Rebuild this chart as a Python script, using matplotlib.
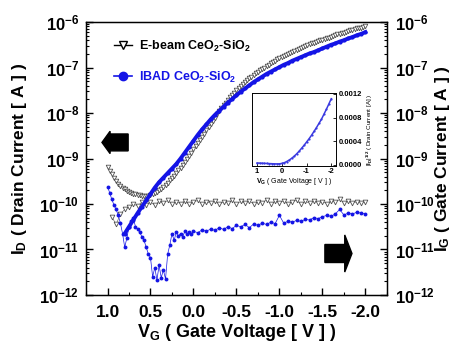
import numpy as np
import matplotlib
matplotlib.use('Agg')
import matplotlib.pyplot as plt
from matplotlib.patches import Polygon
from matplotlib.lines import Line2D
from matplotlib.ticker import FuncFormatter, MultipleLocator, NullFormatter, FixedLocator

plt.rcParams['font.family'] = ['Liberation Sans', 'DejaVu Sans']
plt.rcParams['font.weight'] = 'bold'
plt.rcParams['mathtext.fontset'] = 'custom'
plt.rcParams['mathtext.rm'] = 'Liberation Sans:bold'
plt.rcParams['mathtext.it'] = 'Liberation Sans:bold'
plt.rcParams['mathtext.bf'] = 'Liberation Sans:bold'
plt.rcParams['mathtext.sf'] = 'Liberation Sans:bold'
plt.rcParams['mathtext.default'] = 'rm'
plt.rcParams['axes.unicode_minus'] = False

# ---------------- data ----------------
# E-beam drain current (log10 A), VG = 1.0 ... -2.0 step 0.025
vg_ebeam_drain = np.round(np.linspace(1.0, -2.0, 121), 3)
ebeam_drain_log10 = [
    -9.19, -9.27, -9.35, -9.43, -9.50, -9.55, -9.60, -9.64, -9.68, -9.71,
    -9.74, -9.76, -9.78, -9.79, -9.80, -9.81, -9.82, -9.83, -9.83, -9.82,
    -9.80, -9.78, -9.76, -9.73, -9.70, -9.66, -9.62, -9.58, -9.53, -9.48,
    -9.43, -9.38, -9.32, -9.26, -9.20, -9.14, -9.07, -9.01, -8.94, -8.87,
    -8.80, -8.73, -8.66, -8.59, -8.52, -8.45, -8.38, -8.31, -8.24, -8.17,
    -8.10, -8.03, -7.96, -7.89, -7.83, -7.77, -7.71, -7.65, -7.60, -7.55,
    -7.50, -7.45, -7.41, -7.36, -7.32, -7.28, -7.24, -7.20, -7.17, -7.13,
    -7.10, -7.06, -7.03, -7.00, -6.97, -6.94, -6.91, -6.88, -6.85, -6.82,
    -6.80, -6.77, -6.75, -6.72, -6.70, -6.67, -6.65, -6.63, -6.61, -6.59,
    -6.57, -6.55, -6.53, -6.51, -6.49, -6.47, -6.46, -6.44, -6.42, -6.40,
    -6.39, -6.37, -6.35, -6.34, -6.32, -6.30, -6.29, -6.27, -6.26, -6.24,
    -6.23, -6.21, -6.20, -6.18, -6.17, -6.15, -6.14, -6.13, -6.12, -6.10,
    -6.09]

# IBAD drain current (log10 A), VG = 0.8 ... -2.0 step 0.05
vg_ibad_drain = np.round(np.linspace(0.8, -2.0, 57), 3)
ibad_drain_log10 = [
    -10.65, -10.50, -10.35, -10.20, -10.06, -9.92, -9.78, -9.64, -9.52, -9.42,
    -9.32, -9.22, -9.12, -9.00, -8.87, -8.74, -8.61, -8.48, -8.36, -8.25,
    -8.14, -8.04, -7.95, -7.86, -7.77, -7.69, -7.61, -7.53, -7.46, -7.39,
    -7.32, -7.26, -7.20, -7.14, -7.09, -7.04, -6.99, -6.94, -6.90, -6.85,
    -6.81, -6.77, -6.73, -6.69, -6.66, -6.62, -6.58, -6.54, -6.50, -6.47,
    -6.43, -6.40, -6.36, -6.33, -6.29, -6.26, -6.22]

# E-beam gate current (log10 A), VG = 0.95 ... -2.0 step 0.05
vg_ebeam_gate = np.round(np.linspace(0.95, -2.0, 60), 3)
ebeam_gate_log10 = [
    -10.28, -10.45, -10.22, -10.12, -10.06, -10.00, -10.04, -9.96, -10.02, -9.95,
    -10.03, -9.94, -9.98, -9.92, -10.00, -9.95, -9.99, -9.93, -10.01, -9.96,
    -9.92, -10.00, -9.95, -9.98, -9.93, -10.01, -9.95, -9.97, -9.92, -10.00,
    -9.94, -9.98, -9.93, -10.00, -9.95, -9.97, -9.91, -9.99, -9.94, -9.97,
    -9.93, -9.99, -9.95, -9.92, -10.00, -9.94, -9.98, -9.93, -9.97, -9.95,
    -9.99, -9.93, -9.96, -9.90, -9.97, -9.94, -9.98, -9.95, -9.97, -9.96]

# IBAD gate current (log10 A): VG = 1.0 ... 0.0 step 0.025, then -0.05 ... -2.0 step 0.05
vg_ibad_gate = np.round(np.concatenate([np.linspace(1.0, 0.0, 41),
                                        np.linspace(-0.05, -2.0, 40)]), 3)
ibad_gate_log10 = [
    -9.62, -9.75, -9.90, -10.02, -10.12, -10.25, -10.42, -10.65, -10.95, -10.75,
    -10.50, -10.38, -10.30, -10.50, -10.55, -10.62, -10.72, -10.80, -10.95, -11.10,
    -11.18, -11.60, -11.40, -11.67, -11.35, -11.62, -11.45, -11.65, -11.10, -10.90,
    -10.65, -10.80, -10.62, -10.70, -10.65, -10.72, -10.60, -10.66, -10.62, -10.65,
    -10.60,
    -10.63, -10.57, -10.60, -10.55, -10.58, -10.52, -10.56, -10.50, -10.54, -10.47,
    -10.50, -10.45, -10.52, -10.44, -10.47, -10.42, -10.45, -10.40, -10.43, -10.25,
    -10.42, -10.38, -10.40, -10.36, -10.38, -10.34, -10.35, -10.30, -10.32, -10.28,
    -10.25, -10.27, -10.22, -10.12, -10.24, -10.20, -10.22, -10.18, -10.20, -10.22]

# inset: |ID|^1/2 vs VG
vg_inset = np.round(np.linspace(1.0, -2.0, 31), 3)
sqrt_id_inset = [
    3.0e-5, 2.8e-5, 2.6e-5, 2.4e-5, 2.2e-5, 2.0e-5, 1.8e-5, 1.6e-5, 1.5e-5, 1.6e-5,
    2.2e-5, 3.5e-5, 5.5e-5, 8.0e-5, 1.1e-4, 1.45e-4, 1.85e-4, 2.3e-4, 2.8e-4, 3.3e-4,
    3.85e-4, 4.4e-4, 5.0e-4, 5.65e-4, 6.3e-4, 7.0e-4, 7.7e-4, 8.55e-4, 9.4e-4, 1.03e-3,
    1.12e-3]

x_ticks = [1.0, 0.5, 0.0, -0.5, -1.0, -1.5, -2.0]
y_ticks = [1e-12, 1e-11, 1e-10, 1e-9, 1e-8, 1e-7, 1e-6]
inset_xticks = [1, 0, -1, -2]
inset_yticks = [0.0, 0.0004, 0.0008, 0.0012]

BLUE = '#1414e6'
GRAY = '#505050'

# ---------------- figure ----------------
fig = plt.figure(figsize=(4.6, 3.45), dpi=100)
ax = fig.add_axes([0.187, 0.145, 0.654, 0.791])
ax.set_yscale('log')

ax.plot(vg_ebeam_gate, 10 ** np.array(ebeam_gate_log10), color=GRAY, lw=0.4,
        marker='v', ms=3.4, mfc='white', mec=GRAY, mew=0.6)
ax.plot(vg_ebeam_drain, 10 ** np.array(ebeam_drain_log10), color=GRAY, lw=0.4,
        marker='v', ms=3.3, mfc='white', mec=GRAY, mew=0.6)
ax.plot(vg_ibad_gate, 10 ** np.array(ibad_gate_log10), color=BLUE, lw=0.5,
        marker='o', ms=2.8, mfc=BLUE, mec=BLUE, mew=0)
ax.plot(vg_ibad_drain, 10 ** np.array(ibad_drain_log10), color=BLUE, lw=2.8,
        marker='o', ms=3.0, mfc=BLUE, mec=BLUE, mew=0)

ax.set_xlim(1.25, -2.25)
ax.set_ylim(1e-12, 1e-6)

minor_y = [m * 10.0 ** e for e in range(-12, -6) for m in range(2, 10)]
ax.xaxis.set_major_locator(FixedLocator(x_ticks))
ax.xaxis.set_minor_locator(MultipleLocator(0.25))
ax.xaxis.set_major_formatter(FuncFormatter(lambda v, p: '%.1f' % v))
ax.yaxis.set_major_locator(FixedLocator(y_ticks))
ax.yaxis.set_minor_locator(FixedLocator(minor_y))
ax.yaxis.set_minor_formatter(NullFormatter())
logfmt = FuncFormatter(lambda v, p: r'$10^{%d}$' % int(round(np.log10(v))))
ax.yaxis.set_major_formatter(logfmt)
ax.tick_params(which='both', direction='in', top=False, right=False, labelsize=12)
ax.tick_params(which='major', length=5, width=1)
ax.tick_params(which='minor', length=2.5, width=0.8)
ax.tick_params(axis='x', pad=7, labelsize=12.5)
ax.tick_params(axis='y', pad=5)
for s in ax.spines.values():
    s.set_linewidth(1.0)

ax2 = ax.twinx()
ax2.set_yscale('log')
ax2.set_ylim(1e-12, 1e-6)
ax2.yaxis.set_major_locator(FixedLocator(y_ticks))
ax2.yaxis.set_minor_locator(FixedLocator(minor_y))
ax2.yaxis.set_minor_formatter(NullFormatter())
ax2.yaxis.set_major_formatter(logfmt)
ax2.tick_params(axis='y', which='both', direction='in', labelsize=12, pad=6)
ax2.tick_params(axis='y', which='major', length=5, width=1)
ax2.tick_params(axis='y', which='minor', length=2.5, width=0.8)

ax.set_xlabel(r'$V_G$ ( Gate Voltage [ V ] )', fontsize=13, fontweight='bold')
ax.xaxis.set_label_coords(0.5, -0.098)
ax.set_ylabel(r'$I_D$ ( Drain Current [ A ] )', fontsize=12.5, fontweight='bold')
ax.yaxis.set_label_coords(-0.19, 0.5)
ax2.set_ylabel(r'$I_G$ ( Gate Current [ A ] )', fontsize=12.5, fontweight='bold')
ax2.yaxis.set_label_coords(1.153, 0.5)

# legend
h1 = Line2D([], [], color='black', lw=1.0, marker='v', ms=6, mfc='white', mec='black', mew=1.0)
h2 = Line2D([], [], color=BLUE, lw=1.2, marker='o', ms=6, mfc=BLUE, mec=BLUE)
leg = ax.legend([h1, h2], [r'E-beam CeO$_2$-SiO$_2$', r'IBAD CeO$_2$-SiO$_2$'],
                loc='upper left', bbox_to_anchor=(0.093, 0.94), frameon=False,
                prop={'size': 9, 'weight': 'bold'}, handlelength=1.45,
                handletextpad=0.55, labelspacing=1.3, borderaxespad=0, borderpad=0)
leg.get_texts()[0].set_color('black')
leg.get_texts()[1].set_color(BLUE)

# arrows (axes fraction)
left_arrow = [(0.053, 0.559), (0.080, 0.600), (0.080, 0.590), (0.140, 0.590),
              (0.140, 0.528), (0.080, 0.528), (0.080, 0.518)]
right_arrow = [(0.884, 0.152), (0.860, 0.220), (0.860, 0.185), (0.794, 0.185),
               (0.794, 0.119), (0.860, 0.119), (0.860, 0.084)]
ax.add_patch(Polygon(left_arrow, closed=True, transform=ax.transAxes, fc='black', ec='black'))
ax.add_patch(Polygon(right_arrow, closed=True, transform=ax.transAxes, fc='black', ec='black'))

# inset
axi = fig.add_axes([0.548, 0.519, 0.183, 0.212])
axi.plot(vg_inset, sqrt_id_inset, color='#3a3ae0', lw=1.1, marker='o', ms=1.6, mew=0)
axi.set_xlim(1.2, -2.2)
axi.set_ylim(-0.00002, 0.00122)
axi.xaxis.set_major_locator(FixedLocator(inset_xticks))
axi.yaxis.set_major_locator(FixedLocator(inset_yticks))
axi.xaxis.set_major_formatter(FuncFormatter(lambda v, p: '%d' % v))
axi.yaxis.set_major_formatter(FuncFormatter(lambda v, p: '%.4f' % v))
axi.yaxis.tick_right()
axi.yaxis.set_label_position('right')
axi.tick_params(direction='in', length=2, width=0.6, labelsize=5.5, pad=1.5)
for s in axi.spines.values():
    s.set_linewidth(0.7)
axi.set_xlabel(r'$V_G$ ( Gate Voltage [ V ] )', fontsize=5, labelpad=1)
axi.set_ylabel(r'|$I_D$|$^{1/2}$ ( Drain Current [A] )', fontsize=4.5, labelpad=2)

fig.savefig('out.png', dpi=100)
